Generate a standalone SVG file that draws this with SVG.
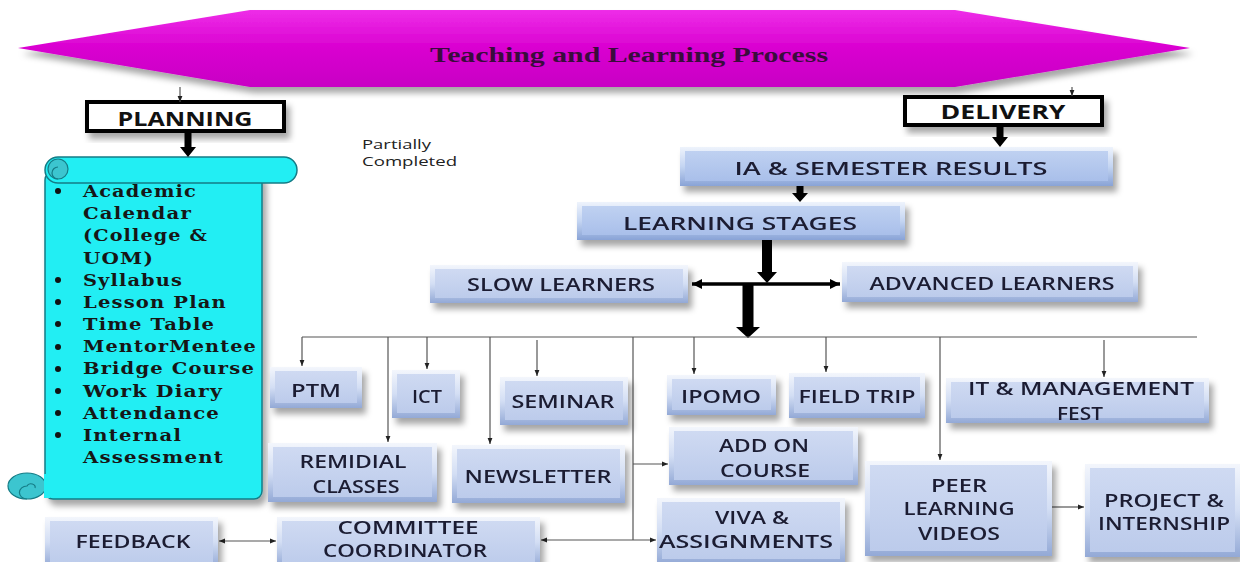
<svg xmlns="http://www.w3.org/2000/svg" width="1240" height="562" viewBox="0 0 1240 562">
<defs>
<style>
.t{font-family:"Open Sans","Liberation Sans",sans-serif;font-size:18px;font-weight:600;fill:#1b1d33;text-anchor:middle}
.hb{font-family:"Open Sans","Liberation Sans",sans-serif;font-size:20px;font-weight:700;fill:#111;text-anchor:middle}
.st{font-family:"DejaVu Serif","Liberation Serif",serif;font-size:17px;font-weight:700;fill:#161616;letter-spacing:1px}
.bo{fill:url(#gO)}
.bi{fill:url(#gI)}
.bo2{fill:url(#gO2)}
.bi2{fill:url(#gI2)}
.thin{stroke:#555;stroke-width:1.2;fill:none}
.thk{fill:#000}
</style>
<linearGradient id="gO" x1="0" y1="0" x2="0" y2="1">
<stop offset="0" stop-color="#f3f6fc"/><stop offset="0.5" stop-color="#d3def4"/><stop offset="1" stop-color="#93a9d6"/>
</linearGradient>
<linearGradient id="gI" x1="0" y1="0" x2="0" y2="1">
<stop offset="0" stop-color="#cfdaf2"/><stop offset="1" stop-color="#bccbeb"/>
</linearGradient>
<linearGradient id="gO2" x1="0" y1="0" x2="0" y2="1">
<stop offset="0" stop-color="#eef3fc"/><stop offset="0.5" stop-color="#c4d5f2"/><stop offset="1" stop-color="#89a3d6"/>
</linearGradient>
<linearGradient id="gI2" x1="0" y1="0" x2="0" y2="1">
<stop offset="0" stop-color="#bfd1f1"/><stop offset="1" stop-color="#a9bfea"/>
</linearGradient>
<linearGradient id="gM" x1="0" y1="0" x2="0" y2="1">
<stop offset="0" stop-color="#ee2ee8"/><stop offset="0.5" stop-color="#d900d0"/><stop offset="1" stop-color="#c800c4"/>
</linearGradient>
<filter id="sh" x="-10%" y="-10%" width="130%" height="150%">
<feDropShadow dx="4" dy="6" stdDeviation="3" flood-color="#000" flood-opacity="0.35"/>
</filter>
<marker id="ah" viewBox="0 0 10 10" refX="10" refY="5" markerWidth="6" markerHeight="6" markerUnits="userSpaceOnUse" orient="auto-start-reverse">
<path d="M0,1 L10,5 L0,9 z" fill="#222"/>
</marker>
<marker id="ahk" viewBox="0 0 10 10" refX="10" refY="5" markerWidth="10" markerHeight="10" markerUnits="userSpaceOnUse" orient="auto-start-reverse">
<path d="M0,0 L10,5 L0,10 z" fill="#000"/>
</marker>
</defs>
<rect width="1240" height="562" fill="#fff"/>

<g id="banner">
<polygon points="18,48 250,10 955,10 1190,48 955,87 250,87" fill="url(#gM)" filter="url(#sh)"/>
<text x="430" y="62" textLength="398" lengthAdjust="spacingAndGlyphs" font-family="Liberation Serif, serif" font-size="20" font-weight="700" fill="#3a0c3c">Teaching and Learning Process</text>
</g>

<g id="planning">
<rect x="87" y="102" width="197" height="29" fill="#fff" stroke="#000" stroke-width="4" filter="url(#sh)"/>
<text class="hb" x="185" y="126" textLength="135" lengthAdjust="spacingAndGlyphs">PLANNING</text>
</g>

<g id="delivery">
<rect x="905" y="97" width="197" height="28" fill="#fff" stroke="#000" stroke-width="4" filter="url(#sh)"/>
<text class="hb" x="1003" y="119" textLength="125" lengthAdjust="spacingAndGlyphs">DELIVERY</text>
</g>

<g id="partially">
<text x="362" y="149" textLength="69" lengthAdjust="spacingAndGlyphs" font-family="Open Sans, Liberation Sans, sans-serif" font-size="13" fill="#222">Partially</text>
<text x="362" y="166" textLength="95" lengthAdjust="spacingAndGlyphs" font-family="Open Sans, Liberation Sans, sans-serif" font-size="13" fill="#222">Completed</text>
</g>

<g id="scroll">
<rect x="45" y="172" width="217" height="327" rx="8" fill="#22eef3" stroke="#157c86" stroke-width="1.5" filter="url(#sh)"/>
<rect x="45" y="157" width="252" height="26" rx="13" fill="#22eef3" stroke="#157c86" stroke-width="1.5"/>
<circle cx="58" cy="169" r="10" fill="#3cc5cf" stroke="#157c86" stroke-width="1.2"/>
<path d="M58,179 A6,6 0 0 1 58,167" fill="none" stroke="#157c86" stroke-width="1.2"/>
<ellipse cx="27" cy="486" rx="19" ry="13" fill="#3cc5cf" stroke="#157c86" stroke-width="1.2"/>
<path d="M27,499 A7,6 0 0 1 27,486 A4,3 0 0 1 35,488" fill="none" stroke="#157c86" stroke-width="1.2"/>
<rect x="44" y="474" width="6" height="24" fill="#22eef3"/>
<g fill="#111">
<circle cx="58" cy="191" r="3"/><circle cx="58" cy="280" r="3"/><circle cx="58" cy="302" r="3"/><circle cx="58" cy="324" r="3"/><circle cx="58" cy="347" r="3"/><circle cx="58" cy="369" r="3"/><circle cx="58" cy="391" r="3"/><circle cx="58" cy="413" r="3"/><circle cx="58" cy="435" r="3"/>
</g>
<text class="st" x="83" y="197" textLength="114" lengthAdjust="spacingAndGlyphs">Academic</text>
<text class="st" x="83" y="219" textLength="109" lengthAdjust="spacingAndGlyphs">Calendar</text>
<text class="st" x="83" y="241" textLength="125" lengthAdjust="spacingAndGlyphs">(College &amp;</text>
<text class="st" x="83" y="264" textLength="71" lengthAdjust="spacingAndGlyphs">UOM)</text>
<text class="st" x="83" y="286" textLength="100" lengthAdjust="spacingAndGlyphs">Syllabus</text>
<text class="st" x="83" y="308" textLength="144" lengthAdjust="spacingAndGlyphs">Lesson Plan</text>
<text class="st" x="83" y="330" textLength="132" lengthAdjust="spacingAndGlyphs">Time Table</text>
<text class="st" x="83" y="352" textLength="174" lengthAdjust="spacingAndGlyphs">MentorMentee</text>
<text class="st" x="83" y="374" textLength="172" lengthAdjust="spacingAndGlyphs">Bridge Course</text>
<text class="st" x="83" y="397" textLength="140" lengthAdjust="spacingAndGlyphs">Work Diary</text>
<text class="st" x="83" y="419" textLength="137" lengthAdjust="spacingAndGlyphs">Attendance</text>
<text class="st" x="83" y="441" textLength="99" lengthAdjust="spacingAndGlyphs">Internal</text>
<text class="st" x="83" y="463" textLength="141" lengthAdjust="spacingAndGlyphs">Assessment</text>
</g>

<g id="connectors">
<line class="thin" x1="180" y1="87" x2="180" y2="102" marker-end="url(#ah)"/>
<line class="thin" x1="1072" y1="87" x2="1072" y2="96" marker-end="url(#ah)"/>
<polygon class="thk" points="184.5,131 191.5,131 191.5,147 196,147 188,157 180,147 184.5,147"/>
<polygon class="thk" points="996.5,125 1003.5,125 1003.5,137 1008,137 1000,147 992,137 996.5,137"/>
<polygon class="thk" points="796.5,186 803.5,186 803.5,193 808,193 800,202 792,193 796.5,193"/>
<polygon class="thk" points="762,240 772,240 772,272 777,272 767,283 757,272 762,272"/>
<line x1="692" y1="284" x2="840" y2="284" stroke="#000" stroke-width="3.5" marker-start="url(#ahk)" marker-end="url(#ahk)"/>
<polygon class="thk" points="742.5,284 753.5,284 753.5,327 760,327 748,338 736,327 742.5,327"/>
<line class="thin" x1="302" y1="337" x2="1197" y2="337"/>
<line class="thin" x1="302" y1="337" x2="302" y2="366" marker-end="url(#ah)"/>
<line class="thin" x1="427" y1="337" x2="427" y2="369" marker-end="url(#ah)"/>
<line class="thin" x1="388" y1="337" x2="388" y2="442" marker-end="url(#ah)"/>
<line class="thin" x1="490" y1="337" x2="490" y2="444" marker-end="url(#ah)"/>
<line class="thin" x1="537" y1="340" x2="537" y2="376" marker-end="url(#ah)"/>
<line class="thin" x1="694" y1="337" x2="694" y2="374" marker-end="url(#ah)"/>
<line class="thin" x1="826" y1="337" x2="826" y2="372" marker-end="url(#ah)"/>
<line class="thin" x1="940" y1="337" x2="940" y2="460" marker-end="url(#ah)"/>
<line class="thin" x1="1104" y1="340" x2="1104" y2="377" marker-end="url(#ah)"/>
<line class="thin" x1="633" y1="337" x2="633" y2="540"/>
<line class="thin" x1="633" y1="464" x2="668" y2="464" marker-end="url(#ah)"/>
<line class="thin" x1="541" y1="540" x2="656" y2="540" marker-start="url(#ah)" marker-end="url(#ah)"/>
<line class="thin" x1="219" y1="541" x2="276" y2="541" marker-start="url(#ah)" marker-end="url(#ah)"/>
<line class="thin" x1="1052" y1="507" x2="1084" y2="507" marker-end="url(#ah)"/>
</g>

<g id="ia" filter="url(#sh)">
<rect class="bo2" x="680" y="147" width="433" height="39"/>
<rect class="bi2" x="685" y="151" width="423" height="30"/>
<text class="t" x="891" y="175" font-size="20" font-weight="700" textLength="313" lengthAdjust="spacingAndGlyphs">IA &amp; SEMESTER RESULTS</text>
</g>
<g id="stages" filter="url(#sh)">
<rect class="bo2" x="577" y="202" width="328" height="38"/>
<rect class="bi2" x="582" y="206" width="318" height="29"/>
<text class="t" x="740" y="230" font-size="20" textLength="234" lengthAdjust="spacingAndGlyphs">LEARNING STAGES</text>
</g>
<g id="slow" filter="url(#sh)">
<rect class="bo" x="430" y="265" width="258" height="38"/>
<rect class="bi" x="435" y="269" width="248" height="29"/>
<text class="t" x="561" y="291" textLength="188" lengthAdjust="spacingAndGlyphs">SLOW LEARNERS</text>
</g>
<g id="advanced" filter="url(#sh)">
<rect class="bo" x="842" y="262" width="296" height="40"/>
<rect class="bi" x="847" y="266" width="286" height="31"/>
<text class="t" x="992" y="290" textLength="245" lengthAdjust="spacingAndGlyphs">ADVANCED LEARNERS</text>
</g>
<g id="ptm" filter="url(#sh)">
<rect class="bo" x="270" y="367" width="92" height="41"/>
<rect class="bi" x="275" y="371" width="82" height="32"/>
<text class="t" x="316" y="397" textLength="50" lengthAdjust="spacingAndGlyphs">PTM</text>
</g>
<g id="ict" filter="url(#sh)">
<rect class="bo" x="392" y="370" width="68" height="48"/>
<rect class="bi" x="397" y="374" width="58" height="39"/>
<text class="t" x="427" y="403" textLength="30" lengthAdjust="spacingAndGlyphs">ICT</text>
</g>
<g id="seminar" filter="url(#sh)">
<rect class="bo" x="500" y="377" width="128" height="48"/>
<rect class="bi" x="505" y="381" width="118" height="39"/>
<text class="t" x="563" y="408" textLength="103" lengthAdjust="spacingAndGlyphs">SEMINAR</text>
</g>
<g id="ipomo" filter="url(#sh)">
<rect class="bo" x="667" y="375" width="109" height="40"/>
<rect class="bi" x="672" y="379" width="99" height="31"/>
<text class="t" x="721" y="403" textLength="80" lengthAdjust="spacingAndGlyphs">IPOMO</text>
</g>
<g id="fieldtrip" filter="url(#sh)">
<rect class="bo" x="789" y="373" width="136" height="45"/>
<rect class="bi" x="794" y="377" width="126" height="36"/>
<text class="t" x="857" y="403" textLength="117" lengthAdjust="spacingAndGlyphs">FIELD TRIP</text>
</g>
<g id="itfest" filter="url(#sh)">
<rect class="bo" x="946" y="378" width="263" height="45"/>
<rect class="bi" x="951" y="382" width="253" height="36"/>
<text class="t" x="1081" y="395" textLength="226" lengthAdjust="spacingAndGlyphs">IT &amp; MANAGEMENT</text>
<text class="t" x="1080" y="420" textLength="46" lengthAdjust="spacingAndGlyphs">FEST</text>
</g>
<g id="remidial" filter="url(#sh)">
<rect class="bo" x="268" y="443" width="169" height="59"/>
<rect class="bi" x="273" y="447" width="159" height="50"/>
<text class="t" x="353" y="468" textLength="107" lengthAdjust="spacingAndGlyphs">REMIDIAL</text>
<text class="t" x="356" y="493" textLength="87" lengthAdjust="spacingAndGlyphs">CLASSES</text>
</g>
<g id="newsletter" filter="url(#sh)">
<rect class="bo" x="452" y="445" width="173" height="58"/>
<rect class="bi" x="457" y="449" width="163" height="49"/>
<text class="t" x="538" y="483" textLength="147" lengthAdjust="spacingAndGlyphs">NEWSLETTER</text>
</g>
<g id="addon" filter="url(#sh)">
<rect class="bo" x="669" y="427" width="189" height="58"/>
<rect class="bi" x="674" y="431" width="179" height="49"/>
<text class="t" x="764" y="452" textLength="90" lengthAdjust="spacingAndGlyphs">ADD ON</text>
<text class="t" x="765" y="477" textLength="90" lengthAdjust="spacingAndGlyphs">COURSE</text>
</g>
<g id="viva" filter="url(#sh)">
<rect class="bo" x="657" y="498" width="188" height="66"/>
<rect class="bi" x="662" y="502" width="178" height="57"/>
<text class="t" x="752" y="524" textLength="74" lengthAdjust="spacingAndGlyphs">VIVA &amp;</text>
<text class="t" x="746" y="548" textLength="174" lengthAdjust="spacingAndGlyphs">ASSIGNMENTS</text>
</g>
<g id="peer" filter="url(#sh)">
<rect class="bo" x="865" y="461" width="187" height="95"/>
<rect class="bi" x="870" y="465" width="177" height="86"/>
<text class="t" x="959" y="492" textLength="56" lengthAdjust="spacingAndGlyphs">PEER</text>
<text class="t" x="959" y="515" textLength="111" lengthAdjust="spacingAndGlyphs">LEARNING</text>
<text class="t" x="959" y="540" textLength="82" lengthAdjust="spacingAndGlyphs">VIDEOS</text>
</g>
<g id="project" filter="url(#sh)">
<rect class="bo" x="1085" y="464" width="155" height="93"/>
<rect class="bi" x="1090" y="468" width="145" height="84"/>
<text class="t" x="1164" y="507" textLength="120" lengthAdjust="spacingAndGlyphs">PROJECT &amp;</text>
<text class="t" x="1164" y="530" textLength="132" lengthAdjust="spacingAndGlyphs">INTERNSHIP</text>
</g>
<g id="feedback" filter="url(#sh)">
<rect class="bo" x="45" y="517" width="173" height="50"/>
<rect class="bi" x="50" y="521" width="163" height="45"/>
<text class="t" x="133" y="548" textLength="115" lengthAdjust="spacingAndGlyphs">FEEDBACK</text>
</g>
<g id="committee" filter="url(#sh)">
<rect class="bo" x="277" y="517" width="263" height="50"/>
<rect class="bi" x="282" y="521" width="253" height="45"/>
<text class="t" x="408" y="534" textLength="141" lengthAdjust="spacingAndGlyphs">COMMITTEE</text>
<text class="t" x="405" y="557" textLength="164" lengthAdjust="spacingAndGlyphs">COORDINATOR</text>
</g>
</svg>
